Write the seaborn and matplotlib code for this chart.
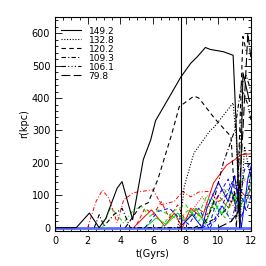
import matplotlib
matplotlib.use("Agg")
import matplotlib.pyplot as plt
import seaborn as sns
from matplotlib.ticker import MultipleLocator

# black series (legend)
t_149 = [0, 1.3, 2.1, 2.7, 3.1, 3.8, 4.1, 4.75, 5.4, 5.85, 6.15, 6.9, 7.7, 8.3, 8.7, 9.2, 9.5, 10.3, 10.9, 11.1, 11.3, 11.5, 11.9]
r_149 = [0, 0, 45, 0, 28, 122, 142, 25, 210, 270, 330, 395, 465, 507, 527, 556, 550, 543, 532, 300, 0, 478, 390]
t_132 = [7.5, 7.8, 7.9, 8.5, 9.5, 9.75, 10.9, 11.1, 11.3, 11.6, 12.0]
r_132 = [0, 77, 126, 230, 300, 311, 385, 270, 0, 250, 150]
t_120 = [4.3, 5.2, 5.7, 6.3, 7.15, 7.6, 8.5, 8.8, 9.75, 10.77, 11.1, 11.5, 11.7]
r_120 = [0, 65, 77, 150, 290, 373, 406, 400, 338, 281, 0, 590, 545]
t_109 = [2.4, 2.7, 3.0, 3.6, 4.1, 4.6, 9.0, 9.6, 10.3, 11.0, 11.4, 11.7, 12.0]
r_109 = [0, 40, 5, 40, 60, 0, 0, 60, 200, 300, 440, 470, 420]
t_106 = [8.5, 9.5, 10.2, 10.8, 11.2, 11.5, 11.8, 12.0]
r_106 = [0, 20, 40, 80, 150, 420, 380, 330]
t_79 = [10.0, 10.8, 11.2, 11.5, 11.8, 12.0]
r_79 = [0, 20, 50, 300, 600, 520]
legend_labels = ["149.2", "132.8", "120.2", "109.3", "106.1", "79.8"]

# red
t_red_dd = [2.0, 2.5, 2.9, 3.3, 3.8, 4.2, 4.8, 5.6, 6.0, 6.5, 7.3, 7.8, 8.3, 8.8, 9.5, 10.0, 10.5, 11.0]
r_red_dd = [0, 80, 116, 90, 15, 86, 108, 114, 117, 71, 81, 112, 95, 110, 112, 80, 100, 60]
t_red_solid = [4.8, 5.4, 5.9, 6.7, 7.3, 7.8, 8.3, 9.0, 9.7, 10.5, 11.0, 11.4, 12.0]
r_red_solid = [0, 30, 55, 5, 45, 0, 60, 30, 138, 193, 210, 225, 228]
t_red_dash = [5.0, 5.5, 6.0, 6.5, 7.0, 7.5, 8.0, 8.7, 9.3, 10.0, 10.6, 11.2, 11.8, 12.0]
r_red_dash = [10, 60, 40, 80, 30, 70, 20, 60, 40, 100, 60, 120, 90, 130]
t_red_dot = [7.5, 8.2, 9.0, 9.5, 10.3, 11.0, 11.6, 12.0]
r_red_dot = [0, 40, 95, 60, 120, 80, 150, 110]

# green
t_grn_dd = [2.9, 3.4, 3.7, 4.2, 4.8, 5.3, 5.8, 6.3, 7.0, 7.5, 8.2, 8.7, 9.3, 9.8, 10.5, 11.0, 11.5, 12.0]
r_grn_dd = [0, 62, 45, 15, 55, 65, 35, 55, 40, 25, 55, 30, 100, 50, 120, 90, 150, 160]
t_grn_solid = [5.5, 6.2, 6.8, 7.5, 8.0, 8.6, 9.2, 9.7, 10.2, 10.8, 11.3, 12.0]
r_grn_solid = [0, 30, 10, 45, 20, 60, 10, 80, 40, 110, 60, 140]
t_grn_dash = [6.5, 7.2, 8.0, 8.8, 9.6, 10.4, 11.0, 11.6, 12.0]
r_grn_dash = [0, 50, 70, 20, 90, 30, 100, 60, 120]

# blue
t_blu_dash = [5.5, 6.3, 7.0, 7.6, 8.2, 8.8, 9.4, 10.0, 10.6, 11.2, 11.6, 12.0]
r_blu_dash = [0, 50, 60, 30, 10, 60, 0, 100, 150, 40, 180, 200]
t_blu_solid = [7.6, 8.4, 9.0, 9.3, 10.0, 10.6, 11.0, 11.4, 11.8, 12.0]
r_blu_solid = [0, 40, 0, 60, 140, 80, 160, 0, 150, 190]
t_blu_dash2 = [9.0, 9.8, 10.5, 11.0, 11.4, 11.8, 12.0]
r_blu_dash2 = [0, 20, 100, 160, 30, 100, 180]
t_blu_dd = [9.5, 10.2, 10.8, 11.3, 11.7, 12.0]
r_blu_dd = [0, 70, 20, 120, 50, 100]
t_base = [0, 12]
r_base = [0, 0]

t_now = 7.7

dotted = (0, (1, 1.5))
dashed = (0, (4, 3))
dashdot = (0, (4, 2, 1, 2))
dash3dot = (0, (4, 2, 1, 2, 1, 2, 1, 2))
longdash = (0, (8, 3))

plt.rcParams["font.family"] = ["DejaVu Sans"]
fig = plt.figure(figsize=(2.66, 2.66), dpi=100)
ax = fig.add_axes([0.207, 0.132, 0.737, 0.804])


def line(t, r, color, ls, lw=0.7, label=None):
    sns.lineplot(x=t, y=r, ax=ax, color=color, linestyle=ls, linewidth=lw,
                 sort=False, estimator=None, label=label, legend=False)


line(t_base, r_base, "#5a6cff", "-", lw=2.0)
for t, r, c, ls in [
    (t_red_dd, r_red_dd, "red", dashdot), (t_red_solid, r_red_solid, "red", "-"),
    (t_red_dash, r_red_dash, "red", dashed), (t_red_dot, r_red_dot, "red", dotted),
    (t_grn_dd, r_grn_dd, "#00e000", dashdot), (t_grn_solid, r_grn_solid, "#00e000", "-"),
    (t_grn_dash, r_grn_dash, "#00e000", dashed),
    (t_blu_dash, r_blu_dash, "blue", dashed), (t_blu_solid, r_blu_solid, "blue", "-"),
    (t_blu_dash2, r_blu_dash2, "blue", dashed), (t_blu_dd, r_blu_dd, "blue", dashdot),
]:
    line(t, r, c, ls)

black = [(t_149, r_149, "-"), (t_132, r_132, dotted), (t_120, r_120, dashed),
         (t_109, r_109, dashdot), (t_106, r_106, dash3dot), (t_79, r_79, longdash)]
for (t, r, ls), lab in zip(black, legend_labels):
    line(t, r, "black", ls, lw=0.8, label=lab)

ax.axvline(t_now, color="black", linewidth=0.8)

ax.set_xlim(0, 12)
ax.set_ylim(-10, 650)
ax.xaxis.set_major_locator(MultipleLocator(2))
ax.xaxis.set_minor_locator(MultipleLocator(0.5))
ax.yaxis.set_major_locator(MultipleLocator(100))
ax.yaxis.set_minor_locator(MultipleLocator(20))
ax.tick_params(which="both", direction="in", top=True, right=True, labelsize=7, width=0.6)
ax.tick_params(which="major", length=5)
ax.tick_params(which="minor", length=2.5)
for s in ax.spines.values():
    s.set_linewidth(0.8)
ax.set_xlabel("t(Gyrs)", fontsize=7, labelpad=2)
ax.set_ylabel("r(kpc)", fontsize=7, labelpad=2)

h, l = ax.get_legend_handles_labels()
ax.legend(h[-6:], l[-6:], loc="upper left", frameon=False, fontsize=6.5,
          handlelength=2.2, handletextpad=0.8, labelspacing=0.0,
          borderaxespad=0.3, bbox_to_anchor=(0.0, 0.985))

fig.savefig("out.png", dpi=100)
